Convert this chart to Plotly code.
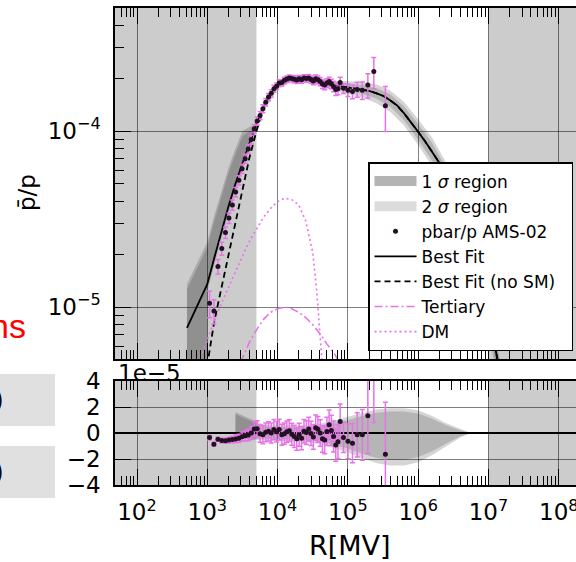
import plotly.graph_objects as go

# ---------------- data ----------------
# AMS-02 pbar/p bins: rigidity (MV), ratio (x1e-5), error (x1e-5), residual data-fit (x1e-5)
R_data = [1077, 1242, 1417, 1607, 1812, 2032, 2272, 2531, 2816, 3126,
          3461, 3825, 4220, 4650, 5119, 5629, 6178, 6773, 7417, 8112,
          8862, 9671, 10540, 11490, 12490, 13540, 14690, 15940, 17290, 18730,
          20280, 21930, 23730, 25680, 27730, 29930, 32280, 34780, 37470, 40370,
          43470, 46770, 50320, 54120, 58160, 62510, 67210, 72250, 77650, 86520,
          100200, 116200, 135600, 160400, 192200, 233800, 341400]
ratio_e5 = [1.05, 0.95, 1.70, 2.15, 2.65, 3.20, 3.80, 4.50, 5.25, 6.10,
            6.95, 7.90, 8.95, 10.3, 11.4, 12.25, 13.39, 14.57, 15.58, 16.39,
            17.40, 17.98, 18.75, 18.84, 19.40, 19.74, 19.99, 19.85, 19.69, 19.50,
            19.82, 19.55, 20.01, 19.86, 20.04, 19.62, 19.25, 19.81, 19.54, 19.11,
            18.49, 18.23, 18.73, 19.11, 18.54, 17.93, 17.19, 17.37, 18.84, 17.50,
            17.06, 16.75, 17.23, 17.05, 18.27, 21.76, 13.93]
err_e5 = [0.18, 0.15, 0.16, 0.18, 0.20, 0.22, 0.25, 0.28, 0.32, 0.36,
          0.40, 0.45, 0.50, 0.56, 0.62, 0.66, 0.70, 0.72, 0.74, 0.76,
          0.78, 0.79, 0.80, 0.81, 0.82, 0.83, 0.84, 0.85, 0.86, 0.87,
          0.88, 0.89, 0.90, 0.91, 0.92, 0.93, 0.95, 0.97, 0.99, 1.01,
          1.03, 1.06, 1.09, 1.12, 1.16, 1.20, 1.25, 1.30, 1.35, 1.15,
          1.35, 1.50, 1.70, 1.95, 2.90, 4.40, 4.00]
resid_e5 = [-0.35, -0.87, -0.48, -0.58, -0.59, -0.54, -0.50, -0.46, -0.41, -0.28,
            -0.22, -0.15, 0.00, 0.30, 0.32, -0.05, -0.13, 0.05, 0.13, 0.00,
            0.26, 0.10, 0.26, -0.13, -0.05, 0.10, 0.18, -0.10, -0.26, -0.45,
            -0.13, -0.40, 0.13, 0.03, 0.30, -0.03, -0.30, 0.41, 0.28, 0.00,
            -0.45, -0.54, 0.12, 0.64, 0.20, -0.27, -0.93, -0.67, 0.88, -0.35,
            -0.63, -0.78, -0.14, -0.14, 1.33, 5.20, -1.63]

# Best fit curve (x1e-5)
R_fit = [514, 1000, 1259, 1585, 1995, 2512, 3162, 3981, 5012, 6310,
         7943, 10000, 12589, 15849, 19953, 25119, 31623, 39811, 50119, 63096,
         79433, 100000, 125893, 158489, 199526, 251189, 316228, 398107, 501187, 630957,
         794328, 1000000, 1258925, 1584893, 1995262, 2511886, 3162278, 3981072, 5011872, 6309573,
         7943282, 10000000, 12589254, 15848932]
fit_e5 = [0.760, 1.349, 1.905, 2.692, 3.715, 5.012, 6.607, 8.511, 10.96, 13.80,
          16.22, 18.20, 19.50, 19.95, 19.95, 19.86, 19.59, 19.14, 18.62, 18.20,
          17.95, 17.70, 17.46, 17.22, 16.90, 16.41, 15.85, 14.96, 13.96, 12.59,
          11.22, 9.886, 8.710, 7.586, 6.607, 5.495, 4.467, 3.467, 2.630, 1.905,
          1.318, 0.891, 0.575, 0.355]

# Best fit without solar modulation (x1e-5); identical to best fit above ~8 GV
R_nosm = [955, 1000, 1259, 1585, 1995, 2512, 3162, 3981, 5012, 6310] + R_fit[10:]
nosm_e5 = [0.355, 0.468, 0.832, 1.288, 1.995, 3.090, 4.786, 7.079, 10.0, 13.49] + fit_e5[10:]

# Tertiary (x1e-5)
R_ter = [2512, 3162, 3981, 5012, 6310, 7943, 10000, 12589, 15849, 19953,
         25119, 31623, 39811, 50119, 63096, 79433]
ter_e5 = [0.398, 0.513, 0.631, 0.741, 0.851, 0.933, 0.977, 1.000, 0.977, 0.933,
          0.871, 0.794, 0.708, 0.617, 0.550, 0.468]

# DM (x1e-5)
R_dm = [708, 794, 1000, 1585, 2512, 3981, 6310, 7943, 10000, 12589,
        15849, 19953, 25119, 31623, 35481, 39811, 44668]
dm_e5 = [0.457, 0.513, 0.646, 1.047, 1.585, 2.371, 3.236, 3.631, 3.981, 4.150,
         4.074, 3.802, 3.090, 2.042, 1.318, 0.759, 0.398]

# Uncertainty bands of the fit, top panel (x1e-5)
R_band_up = [514, 1000, 1259, 1585, 1995, 2512, 3162, 3981, 4467, 5012,
             6310, 10000, 15849, 25119, 39811, 63096, 100000, 158489, 251189, 398107,
             630957, 1000000, 1584893, 2511886, 3981072, 6309573, 10000000, 15848932]
R_band_lo = [514, 1000, 1000, 1259, 1585, 1995, 2512, 3162, 3981, 5012,
             6310, 10000, 15849, 25119, 39811, 63096, 100000, 158489, 251189, 398107,
             630957, 1000000, 1584893, 2511886, 3981072, 6309573, 10000000, 15848932]
s1_up = [1.262, 2.188, 3.090, 4.266, 5.754, 7.413, 9.333, 10.0, 10.23, 11.27,
         14.13, 18.62, 20.42, 20.32, 19.63, 18.84, 18.53, 18.24, 17.58, 16.22,
         13.80, 10.96, 8.511, 6.166, 3.890, 2.138, 1.000, 0.398]
s1_lo = [0.200, 0.251, 1.318, 1.841, 2.600, 3.589, 4.842, 6.383, 8.260, 10.67,
         13.49, 17.78, 19.50, 19.41, 18.66, 17.58, 16.90, 16.26, 15.31, 13.80,
         11.48, 8.913, 6.761, 4.898, 3.090, 1.698, 0.794, 0.316]
s2_up = [1.349, 2.344, 3.311, 4.571, 6.166, 7.943, 10.0, 10.59, 10.72, 11.61,
         14.45, 19.05, 20.89, 20.80, 20.09, 19.36, 19.19, 18.97, 18.41, 17.06,
         14.62, 11.67, 9.120, 6.607, 4.169, 2.291, 1.072, 0.427]
s2_lo = [0.200, 0.251, 1.230, 1.718, 2.427, 3.350, 4.519, 5.957, 7.762, 10.12,
         12.88, 17.18, 19.05, 18.97, 18.16, 16.98, 16.22, 15.49, 14.45, 12.88,
         10.72, 8.318, 6.310, 4.519, 2.818, 1.549, 0.724, 0.282]

# Uncertainty bands, residual panel (x1e-5)
R_rband = [2512, 3162, 3981, 5012, 6310, 10000, 15849, 25119, 39811, 63096,
           100000, 158489, 251189, 398107, 630957, 1000000, 1584893, 2511886, 3981072, 5623413]
r1_up = [1.45, 1.20, 0.95, 0.70, 0.50, 0.45, 0.45, 0.45, 0.55, 0.75,
         1.00, 1.30, 1.55, 1.65, 1.65, 1.50, 1.10, 0.60, 0.20, 0.0]
r1_lo = [-0.30, -0.35, -0.40, -0.45, -0.45, -0.50, -0.50, -0.55, -0.65, -0.90,
         -1.20, -1.60, -1.90, -2.05, -2.05, -1.85, -1.40, -0.80, -0.25, 0.0]
r2_up = [1.60, 1.35, 1.10, 0.85, 0.65, 0.60, 0.60, 0.60, 0.72, 0.95,
         1.25, 1.55, 1.80, 1.90, 1.90, 1.75, 1.30, 0.75, 0.30, 0.0]
r2_lo = [-0.40, -0.45, -0.50, -0.55, -0.60, -0.65, -0.65, -0.70, -0.85, -1.15,
         -1.50, -1.95, -2.30, -2.50, -2.50, -2.25, -1.70, -1.00, -0.35, 0.0]

# excluded (shaded) rigidity ranges, MV
excl_low = [10, 5000]
excl_high = [1e7, 1e9]

# ticks
x_tickvals = [1e2, 1e3, 1e4, 1e5, 1e6, 1e7, 1e8]
x_ticktext = ['10<sup>2</sup>', '10<sup>3</sup>', '10<sup>4</sup>', '10<sup>5</sup>',
              '10<sup>6</sup>', '10<sup>7</sup>', '10<sup>8</sup>']
y_tickvals = [1e-5, 1e-4]
y_ticktext = ['10<sup>−5</sup>', '10<sup>−4</sup>']
r_tickvals = [-4, -2, 0, 2, 4]
r_ticktext = ['−4', '−2', '0', '2', '4']

E5 = 1e-5
def sc(v):
    return [a * E5 for a in v]

x_minor = [k * 10 ** n for n in range(1, 9) for k in range(2, 10)]
y_minor = [k * 10 ** n for n in (-6, -5, -4) for k in range(2, 10)]

FONT = 'DejaVu Sans'
VIOLET = '#e873e8'
C1 = 'rgba(0,0,0,0.15)'
C2 = 'rgba(0,0,0,0.165)'
NB = '\u00a0'

fig = go.Figure()

# ---- top panel ----
fig.add_trace(go.Scatter(x=R_band_up + R_band_lo[::-1], y=sc(s2_up + s2_lo[::-1]),
                         fill='toself', fillcolor=C2, line=dict(width=0), mode='lines',
                         hoverinfo='skip', showlegend=False, xaxis='x', yaxis='y'))
fig.add_trace(go.Scatter(x=R_band_up + R_band_lo[::-1], y=sc(s1_up + s1_lo[::-1]),
                         fill='toself', fillcolor=C1, line=dict(width=0), mode='lines',
                         hoverinfo='skip', showlegend=False, xaxis='x', yaxis='y'))
# legend entries for the bands
fig.add_trace(go.Scatter(x=[None], y=[None], mode='lines', name='1 <i>σ</i> region',
                         line=dict(color='#b4b4b4', width=12),
                         legendrank=1, xaxis='x', yaxis='y'))
fig.add_trace(go.Scatter(x=[None], y=[None], mode='lines', name='2 <i>σ</i> region',
                         line=dict(color='#dcdcdc', width=12),
                         legendrank=2, xaxis='x', yaxis='y'))
fig.add_trace(go.Scatter(x=R_dm, y=sc(dm_e5), mode='lines', name='DM',
                         line=dict(color=VIOLET, width=1.6, dash='2px,3px'),
                         legendrank=7, xaxis='x', yaxis='y'))
fig.add_trace(go.Scatter(x=R_ter, y=sc(ter_e5), mode='lines', name='Tertiary',
                         line=dict(color=VIOLET, width=1.6, dash='8px,3px,2px,3px'),
                         legendrank=6, xaxis='x', yaxis='y'))
fig.add_trace(go.Scatter(x=R_nosm, y=sc(nosm_e5), mode='lines',
                         name='Best Fit (no SM)' + NB + NB,
                         line=dict(color='black', width=1.8, dash='6px,4px'),
                         legendrank=5, xaxis='x', yaxis='y'))
fig.add_trace(go.Scatter(x=R_fit, y=sc(fit_e5), mode='lines', name='Best Fit',
                         line=dict(color='black', width=1.8),
                         legendrank=4, xaxis='x', yaxis='y'))
fig.add_trace(go.Scatter(x=R_data, y=sc(ratio_e5), mode='markers', name='pbar/p AMS-02',
                         marker=dict(color='#221122', size=5),
                         error_y=dict(type='data', array=sc(err_e5), color=VIOLET,
                                      thickness=1.5, width=2.5),
                         legendrank=3, xaxis='x', yaxis='y'))

# ---- residual panel ----
fig.add_trace(go.Scatter(x=R_rband + R_rband[::-1], y=r2_up + r2_lo[::-1],
                         fill='toself', fillcolor=C2, line=dict(width=0), mode='lines',
                         hoverinfo='skip', showlegend=False, xaxis='x2', yaxis='y2'))
fig.add_trace(go.Scatter(x=R_rband + R_rband[::-1], y=r1_up + r1_lo[::-1],
                         fill='toself', fillcolor=C1, line=dict(width=0), mode='lines',
                         hoverinfo='skip', showlegend=False, xaxis='x2', yaxis='y2'))
fig.add_trace(go.Scatter(x=R_data, y=resid_e5, mode='markers', showlegend=False,
                         marker=dict(color='#221122', size=5),
                         error_y=dict(type='data', array=err_e5, color=VIOLET,
                                      thickness=1.5, width=2.5),
                         xaxis='x2', yaxis='y2'))

GRID = 'rgba(0,0,0,0.5)'
xcommon = dict(type='log', range=[1.687, 8.245], domain=[115 / 576, 1.0],
               showline=True, linecolor='black', linewidth=1.5, mirror='allticks',
               ticks='inside', ticklen=16, tickwidth=1.4, tickcolor='black',
               tickmode='array', tickvals=x_tickvals, ticktext=x_ticktext,
               showgrid=True, gridcolor=GRID, gridwidth=1, zeroline=False,
               minor=dict(ticks='inside', ticklen=9, tickwidth=1.2, tickcolor='black',
                          tickmode='array', tickvals=x_minor, showgrid=False))

shapes = []
for (a, b) in (excl_low, excl_high):
    for yr in ('y domain', 'y2 domain'):
        xr = 'x' if yr == 'y domain' else 'x2'
        shapes.append(dict(type='rect', xref=xr, yref=yr, x0=a, x1=b, y0=0, y1=1,
                           fillcolor='#cccccc', line=dict(width=0), layer='below'))
# pieces of neighbouring slide content visible at the left edge
shapes.append(dict(type='rect', xref='paper', yref='paper', x0=0, x1=55 / 576,
                   y0=1 - 426 / 562, y1=1 - 374 / 562, fillcolor='#e0e0e0', line=dict(width=0)))
shapes.append(dict(type='rect', xref='paper', yref='paper', x0=0, x1=55 / 576,
                   y0=1 - 498 / 562, y1=1 - 446 / 562, fillcolor='#e0e0e0', line=dict(width=0)))

annotations = [
    dict(text='1e−5', xref='paper', yref='paper', x=116 / 576, y=1 - 373 / 562,
         xanchor='left', yanchor='middle', showarrow=False,
         font=dict(family=FONT, size=23, color='black')),
    dict(text='R[MV]', xref='paper', yref='paper', x=350 / 576, y=1 - 545 / 562,
         xanchor='center', yanchor='middle', showarrow=False,
         font=dict(family=FONT, size=27, color='black')),
    dict(text='p̄/p', xref='paper', yref='paper', x=27 / 576, y=1 - 193 / 562,
         xanchor='center', yanchor='middle', showarrow=False, textangle=-90,
         font=dict(family=FONT, size=23, color='black')),
    dict(text='ns', xref='paper', yref='paper', x=28 / 576, y=1 - 326 / 562,
         xanchor='right', yanchor='middle', showarrow=False,
         font=dict(family='Liberation Sans', size=34, color='red')),
    dict(text=')', xref='paper', yref='paper', x=6 / 576, y=1 - 400 / 562,
         xanchor='right', yanchor='middle', showarrow=False,
         font=dict(family=FONT, size=28, color='black')),
    dict(text=')', xref='paper', yref='paper', x=6 / 576, y=1 - 472 / 562,
         xanchor='right', yanchor='middle', showarrow=False,
         font=dict(family=FONT, size=28, color='black')),
]

fig.update_layout(
    width=576, height=562, margin=dict(l=0, r=0, t=0, b=0, autoexpand=False),
    paper_bgcolor='white', plot_bgcolor='white',
    font=dict(family=FONT, color='black'),
    showlegend=True,
    legend=dict(x=368 / 576, y=1 - 162 / 562, xanchor='left', yanchor='top',
                bgcolor='white', bordercolor='black', borderwidth=1.5,
                font=dict(family=FONT, size=17, color='black'),
                itemwidth=42, tracegroupgap=0),
    xaxis=dict(xcommon, anchor='y', showticklabels=False),
    xaxis2=dict(xcommon, anchor='y2', matches='x', showticklabels=True,
                ticklabeloverflow='allow',
                tickfont=dict(family=FONT, size=23, color='black'), ticklabelstandoff=6),
    yaxis=dict(domain=[1 - 359 / 562, 1 - 8 / 562], type='log', range=[-5.2955, -3.301],
               showline=True, linecolor='black', linewidth=1.5, mirror=False,
               ticks='inside', ticklen=16, tickwidth=1.4, tickcolor='black',
               tickmode='array', tickvals=y_tickvals, ticktext=y_ticktext,
               tickfont=dict(family=FONT, size=23, color='black'), ticklabelstandoff=8,
               showgrid=True, gridcolor=GRID, gridwidth=1, zeroline=False,
               minor=dict(ticks='inside', ticklen=9, tickwidth=1.2, tickcolor='black',
                          tickmode='array', tickvals=y_minor, showgrid=False),
               anchor='x'),
    yaxis2=dict(domain=[1 - 485 / 562, 1 - 381 / 562], range=[-4, 4],
                showline=True, linecolor='black', linewidth=1.5, mirror=False,
                ticks='inside', ticklen=16, tickwidth=1.4, tickcolor='black',
                tickmode='array', tickvals=r_tickvals, ticktext=r_ticktext,
                tickfont=dict(family=FONT, size=23, color='black'), ticklabelstandoff=8,
                showgrid=True, gridcolor=GRID, gridwidth=1,
                zeroline=True, zerolinecolor='black', zerolinewidth=1.5,
                anchor='x2'),
    shapes=shapes, annotations=annotations,
)

fig.write_html('out.html')
